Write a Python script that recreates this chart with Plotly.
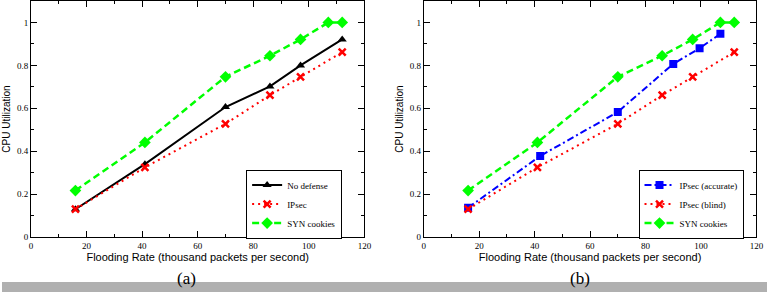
import plotly.graph_objects as go

# ---- data ----
rate_a_nodef = [16, 41, 70, 86, 97, 112]
cpu_a_nodef = [0.13, 0.34, 0.606, 0.702, 0.80, 0.921]

rate_ipsec = [16, 41, 70, 86, 97, 112]
cpu_ipsec = [0.13, 0.325, 0.528, 0.661, 0.746, 0.862]

rate_syn = [16, 41, 70, 86, 97, 107, 112]
cpu_syn = [0.217, 0.441, 0.747, 0.845, 0.921, 1.0, 1.0]

rate_b_acc = [16, 42, 70, 90, 99.5, 107]
cpu_b_acc = [0.137, 0.378, 0.583, 0.807, 0.88, 0.947]

x_ticks = [0, 20, 40, 60, 80, 100, 120]
y_ticks = [0, 0.2, 0.4, 0.6, 0.8, 1]
y_tick_text = ["0", "0.2", "0.4", "0.6", "0.8", "1"]

W, H = 774, 297
fig = go.Figure()

# Panel (a)
fig.add_trace(go.Scatter(x=rate_a_nodef, y=cpu_a_nodef, name="No defense",
                         mode="lines+markers", line=dict(color="black", width=2),
                         marker=dict(symbol="triangle-up", size=8, color="black"),
                         xaxis="x", yaxis="y", legend="legend"))
fig.add_trace(go.Scatter(x=rate_ipsec, y=cpu_ipsec, name="IPsec",
                         mode="lines+markers", line=dict(color="red", width=2, dash="2px,4px"),
                         marker=dict(symbol="x-thin", size=7, color="red",
                                     line=dict(color="red", width=2.5)),
                         xaxis="x", yaxis="y", legend="legend"))
fig.add_trace(go.Scatter(x=rate_syn, y=cpu_syn, name="SYN cookies",
                         mode="lines+markers", line=dict(color="#00ff00", width=2.5, dash="7px,4px"),
                         marker=dict(symbol="diamond", size=9, color="#00ff00"),
                         xaxis="x", yaxis="y", legend="legend"))

# Panel (b)
fig.add_trace(go.Scatter(x=rate_b_acc, y=cpu_b_acc, name="IPsec (accurate)",
                         mode="lines+markers", line=dict(color="blue", width=2, dash="7px,3px,2px,3px"),
                         marker=dict(symbol="square", size=8, color="blue"),
                         xaxis="x2", yaxis="y2", legend="legend2"))
fig.add_trace(go.Scatter(x=rate_ipsec, y=cpu_ipsec, name="IPsec (blind)",
                         mode="lines+markers", line=dict(color="red", width=2, dash="2px,4px"),
                         marker=dict(symbol="x-thin", size=7, color="red",
                                     line=dict(color="red", width=2.5)),
                         xaxis="x2", yaxis="y2", legend="legend2"))
fig.add_trace(go.Scatter(x=rate_syn, y=cpu_syn, name="SYN cookies",
                         mode="lines+markers", line=dict(color="#00ff00", width=2.5, dash="7px,4px"),
                         marker=dict(symbol="diamond", size=9, color="#00ff00"),
                         xaxis="x2", yaxis="y2", legend="legend2"))

tick_font = dict(family="Liberation Serif", size=9, color="black")
title_font = dict(family="Liberation Sans", size=11, color="black")

def xaxis_cfg(domain):
    return dict(domain=domain, range=[0, 120], tickvals=x_ticks, ticks="inside",
                ticklen=6, tickwidth=1, tickcolor="black", showline=True,
                linecolor="black", linewidth=1, mirror="ticks", showgrid=False,
                zeroline=False, tickfont=tick_font,
                minor=dict(dtick=10, tick0=0, ticks="inside", ticklen=3,
                           tickcolor="black", tickwidth=1, showgrid=False),
                title=dict(text="Flooding Rate (thousand packets per second)",
                           font=title_font, standoff=3))

def yaxis_cfg(anchor):
    return dict(domain=[1 - 241 / H, 1], range=[0, 1.1], tickvals=y_ticks,
                ticktext=y_tick_text, ticks="inside", ticklen=6, tickwidth=1,
                tickcolor="black", showline=True, linecolor="black", linewidth=1,
                mirror="ticks", showgrid=False, zeroline=False, tickfont=tick_font,
                anchor=anchor,
                minor=dict(dtick=0.1, tick0=0, ticks="inside", ticklen=3,
                           tickcolor="black", tickwidth=1, showgrid=False),
                title=dict(text="CPU Utilization", font=dict(family="Liberation Sans", size=10, color="black"),
                           standoff=4))

xa = xaxis_cfg([29.3 / W, 366.7 / W]); xa["anchor"] = "y"
xb = xaxis_cfg([426.7 / W, 763.3 / W]); xb["anchor"] = "y2"

legend_common = dict(bgcolor="white", bordercolor="black", borderwidth=1,
                     font=dict(family="Liberation Serif", size=9, color="black"),
                     xanchor="left", yanchor="top", tracegroupgap=0,
                     itemwidth=30)

fig.update_layout(
    width=W, height=H,
    margin=dict(l=0, r=0, t=0, b=0),
    paper_bgcolor="white", plot_bgcolor="white",
    showlegend=True,
    xaxis=xa, yaxis=yaxis_cfg("x"),
    xaxis2=xb, yaxis2=yaxis_cfg("x2"),
    legend=dict(x=247 / W, y=(H - 172) / H, **legend_common),
    legend2=dict(x=644 / W, y=(H - 172) / H, **legend_common),
    shapes=[dict(type="rect", xref="paper", yref="paper", x0=0, x1=1, y0=0,
                 y1=10.3 / H, fillcolor="#b0b0b0", line=dict(width=0), layer="below")],
    annotations=[
        dict(text="(a)", x=186.7 / W, y=14 / H, xref="paper", yref="paper",
             showarrow=False, xanchor="center", yanchor="middle",
             font=dict(family="Liberation Serif", size=17, color="black")),
        dict(text="(b)", x=585 / W, y=14 / H, xref="paper", yref="paper",
             showarrow=False, xanchor="center", yanchor="middle",
             font=dict(family="Liberation Serif", size=17, color="black")),
    ],
)

fig.write_html("out.html")
